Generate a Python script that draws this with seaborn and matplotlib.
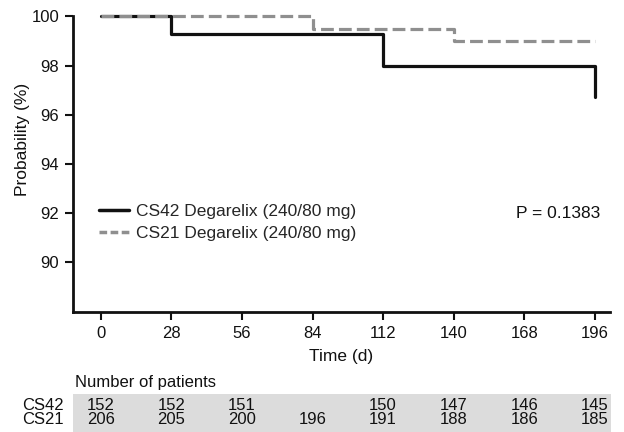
import matplotlib
matplotlib.use("Agg")
import matplotlib.pyplot as plt
import matplotlib.transforms as mtransforms
from matplotlib.patches import Rectangle
from matplotlib.lines import Line2D
import seaborn as sns
import pandas as pd

# ---- data ----
cs42_time = [0, 28, 112, 196]
cs42_prob = [100.0, 99.3, 98.0, 96.7]
cs21_time = [0, 84, 140, 196]
cs21_prob = [100.0, 99.5, 99.0, 99.0]

series_names = ["CS42 Degarelix (240/80 mg)", "CS21 Degarelix (240/80 mg)"]
x_ticks = [0, 28, 56, 84, 112, 140, 168, 196]
y_ticks = [90, 92, 94, 96, 98, 100]
risk_labels = ["CS42", "CS21"]
cs42_risk = ["152", "152", "151", "", "150", "147", "146", "145"]
cs21_risk = ["206", "205", "200", "196", "191", "188", "186", "185"]
p_text = "P = 0.1383"

df = pd.DataFrame({
    "time": cs42_time + cs21_time,
    "prob": cs42_prob + cs21_prob,
    "group": [series_names[0]] * len(cs42_time) + [series_names[1]] * len(cs21_time),
})

sns.set_theme(style="ticks")
plt.rcParams["font.family"] = ["Liberation Sans", "DejaVu Sans"]

W, H = 624, 432
fig = plt.figure(figsize=(W / 100, H / 100), dpi=100)
ax = fig.add_axes([73 / W, 1 - 312 / H, (610 - 73) / W, (312 - 16) / H])

black = "#111111"
grey = "#8f8f8f"

sns.lineplot(data=df[df.group == series_names[0]], x="time", y="prob", ax=ax,
             drawstyle="steps-post", color=black, linewidth=2.3, legend=False,
             clip_on=False, zorder=3)
sns.lineplot(data=df[df.group == series_names[1]], x="time", y="prob", ax=ax,
             drawstyle="steps-post", color=grey, linewidth=2.3, legend=False,
             clip_on=False, zorder=4)
ax.lines[-1].set_dashes((4, 1.6))

ax.set_xlim(-11, 202)
ax.set_ylim(87.95, 100.02)
ax.set_xticks(x_ticks)
ax.set_yticks(y_ticks)
ax.tick_params(axis="both", direction="out", length=6, width=1.5, labelsize=12,
               color=black, labelcolor=black, pad=4)
for s in ["top", "right"]:
    ax.spines[s].set_visible(False)
for s in ["left", "bottom"]:
    ax.spines[s].set_linewidth(2.0)
    ax.spines[s].set_color(black)
ax.set_xlabel("Time (d)", fontsize=12.5, color=black, labelpad=6)
ax.set_ylabel("Probability (%)", fontsize=12.5, color=black)
ax.yaxis.set_label_coords((30 - 73) / 537, (312 - 139) / 296)
ax.grid(False)

handles = [
    Line2D([0], [0], color=black, lw=2.5),
    Line2D([0], [0], color=grey, lw=2.5, dashes=(2.2, 1)),
]
ax.legend(handles, series_names, loc="upper left", bbox_to_anchor=(0.035, 0.39),
          frameon=False, fontsize=12.5, handlelength=1.75, handletextpad=0.4,
          labelspacing=0.4, borderaxespad=0)
ax.text(0.982, 1 - (214 - 16) / 296, p_text, transform=ax.transAxes,
        ha="right", va="center", fontsize=12.5, color=black)

# ---- number at risk table ----
fig.patches.append(Rectangle((73 / W, 0), (611 - 73) / W, (432 - 394) / H,
                             transform=fig.transFigure, facecolor="#dcdcdc",
                             edgecolor="none", zorder=-5))
fig.text(75 / W, 1 - 383 / H, "Number of patients", fontsize=12, va="center",
         ha="left", color=black)
trans = mtransforms.blended_transform_factory(ax.transData, fig.transFigure)
rows = [cs42_risk, cs21_risk]
row_y = [1 - 405 / H, 1 - 420 / H]
for lab, vals, yy in zip(risk_labels, rows, row_y):
    fig.text(22 / W, yy, lab, fontsize=12, va="center", ha="left", color=black)
    for xv, v in zip(x_ticks, vals):
        fig.text(xv, yy, v, transform=trans, fontsize=12, va="center",
                 ha="center", color=black, zorder=5)

fig.savefig("out.png", dpi=100, facecolor="white")
